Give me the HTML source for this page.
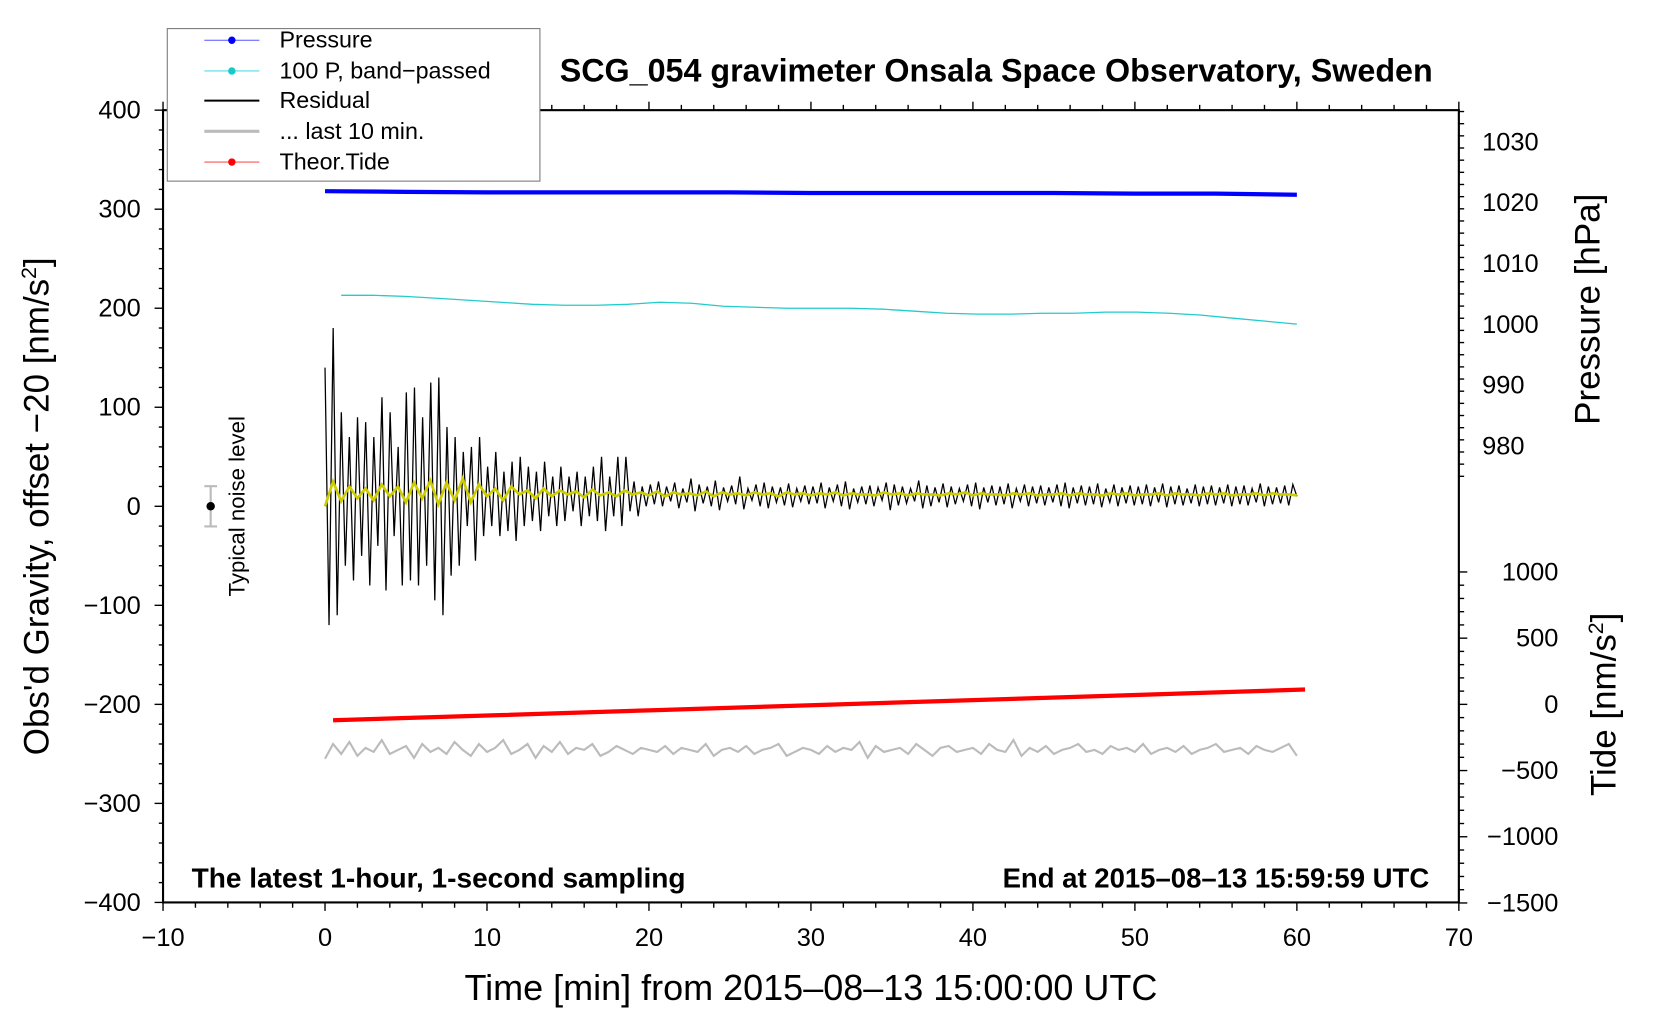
<!DOCTYPE html>
<html><head><meta charset="utf-8"><title>SCG_054 gravimeter</title>
<style>
html,body{margin:0;padding:0;background:#fff;}
svg{display:block;font-family:"Liberation Sans",Arial,sans-serif;}
</style></head>
<body>
<svg id="chart" width="1660" height="1020" viewBox="0 0 1568 963" preserveAspectRatio="none" xmlns="http://www.w3.org/2000/svg">
<rect x="0" y="0" width="1568" height="963" fill="#fff"/>
<g id="plot"></g>
<g id="axes"></g>
<text x="941" y="77" font-size="30.5" font-weight="bold" text-anchor="middle">SCG_054 gravimeter Onsala Space Observatory, Sweden</text>
<text x="181" y="838" font-size="26.5" font-weight="bold">The latest 1-hour, 1-second sampling</text>
<text x="1350" y="838" font-size="26" font-weight="bold" text-anchor="end">End at 2015–08–13 15:59:59 UTC</text>
<text x="766" y="944" font-size="34" text-anchor="middle">Time [min] from 2015–08–13 15:00:00 UTC</text>
<text transform="translate(46,478) rotate(-90)" font-size="33" text-anchor="middle">Obs'd Gravity, offset −20 [nm/s<tspan font-size="20" dy="-12">2</tspan><tspan dy="12">]</tspan></text>
<text transform="translate(1511,292) rotate(-90)" font-size="33" text-anchor="middle">Pressure [hPa]</text>
<text transform="translate(1526,665) rotate(-90)" font-size="33" text-anchor="middle">Tide [nm/s<tspan font-size="20" dy="-12">2</tspan><tspan dy="12">]</tspan></text>
<g>
<line x1="199" y1="459" x2="199" y2="497" stroke="#bbb" stroke-width="2"/>
<line x1="193" y1="459" x2="205" y2="459" stroke="#bbb" stroke-width="2"/>
<line x1="193" y1="497" x2="205" y2="497" stroke="#bbb" stroke-width="2"/>
<circle cx="199" cy="478" r="4" fill="#000"/>
<text transform="translate(231,478) rotate(-90)" font-size="21" text-anchor="middle">Typical noise level</text>
</g>
<g>
<rect x="158" y="27" width="352" height="144" fill="#fff" stroke="#777" stroke-width="1"/>
<g><line x1="193" y1="38" x2="245" y2="38" stroke="#55f" stroke-width="1"/><circle cx="219" cy="38" r="3.5" fill="#00f"/><text x="264" y="45" font-size="22">Pressure</text></g>
<g><line x1="193" y1="67" x2="245" y2="67" stroke="#5dd" stroke-width="1"/><circle cx="219" cy="67" r="3.5" fill="#1cc"/><text x="264" y="74" font-size="22">100 P, band−passed</text></g>
<g><line x1="193" y1="95" x2="245" y2="95" stroke="#000" stroke-width="2"/><text x="264" y="102" font-size="22">Residual</text></g>
<g><line x1="193" y1="124" x2="245" y2="124" stroke="#bbb" stroke-width="3"/><text x="264" y="131" font-size="22">... last 10 min.</text></g>
<g><line x1="193" y1="153" x2="245" y2="153" stroke="#f55" stroke-width="1"/><circle cx="219" cy="153" r="3.5" fill="#f00"/><text x="264" y="160" font-size="22">Theor.Tide</text></g>
</g>
</svg>
<script>
const xTicks = [-10,0,10,20,30,40,50,60,70];
const yTicks = [400,300,200,100,0,-100,-200,-300,-400];
const pTicks = [1030,1020,1010,1000,990,980];
const tideTicks = [1000,500,0,-500,-1000,-1500];
const yTickLabels = ["400","300","200","100","0","−100","−200","−300","−400"];
const xTickLabels = ["−10","0","10","20","30","40","50","60","70"];
const tideTickLabels = ["1000","500","0","−500","−1000","−1500"];

const residual = [140,-120,180,-110,95,-60,70,-75,90,-50,85,-80,70,-40,110,-85,95,-30,60,-80,
115,-75,120,-80,90,-60,125,-95,130,-110,80,-70,70,-60,55,-20,60,-55,70,-30,
40,-20,55,-30,35,-25,45,-35,50,-20,40,-15,35,-25,45,-10,30,-20,40,-15,
30,-5,35,-20,30,-10,40,-15,50,-25,30,-10,50,-20,50,-5,25,-10,20,0,
22,2,25,0,20,5,24,-2,18,4,28,-5,22,3,20,0,26,-4,19,5,
21,2,30,-3,18,6,22,0,24,-2,20,4,19,1,23,-1,18,5,21,2,
20,3,24,-2,19,5,22,0,25,-3,18,4,20,2,21,0,19,6,24,-4,
22,1,20,3,18,5,26,-2,21,0,19,4,23,-1,20,2,18,5,22,0,
24,-3,19,4,21,1,20,2,23,-2,18,5,22,0,20,3,21,1,19,4,
22,0,24,-2,19,3,21,1,20,2,23,-1,18,4,22,0,19,3,21,1,
20,2,22,0,19,4,23,-1,20,2,21,1,18,3,22,0,20,2,21,1,
19,3,22,0,20,2,21,1,18,4,23,0,20,2,19,3,21,1,22,10];
const smoothed = [0,25,5,20,8,18,6,22,10,20,4,24,8,26,2,24,6,28,4,22,
10,18,6,20,12,16,8,18,10,16,12,15,9,17,11,14,10,16,12,14,
11,15,10,14,12,13,11,15,10,14,12,13,11,14,12,13,10,14,12,13,
11,13,12,14,11,13,12,12,11,14,12,13,11,13,12,12,11,13,12,14,
11,13,12,12,11,13,12,13,11,12,12,13,11,13,12,12,11,13,12,13,
11,12,12,13,11,13,12,12,11,13,12,13,11,12,12,13,11,13,12,12,11];
const bandpassed = [213,213,212,210,208,206,204,203,203,204,206,205,202,201,200,200,200,199,197,195,194,194,195,195,196,196,195,193,190,187,184];
const pressure = [1021.9,1021.8,1021.7,1021.7,1021.7,1021.7,1021.6,1021.6,1021.6,1021.6,1021.5,1021.5,1021.3];
const tide = [-120,-82,-43,-5,34,73,112];
const lastTen = [-255,-240,-250,-238,-252,-244,-248,-236,-250,-246,-242,-254,-240,-248,-244,-250,-238,-246,-252,-240,
-248,-244,-236,-250,-246,-240,-254,-242,-248,-238,-250,-244,-246,-240,-252,-248,-242,-246,-250,-244,
-246,-248,-242,-250,-244,-246,-248,-240,-252,-246,-244,-248,-242,-250,-246,-244,-240,-252,-248,-244,
-246,-250,-242,-248,-244,-246,-238,-254,-242,-248,-246,-244,-250,-240,-246,-252,-244,-242,-248,-246,
-244,-250,-240,-246,-248,-236,-252,-244,-248,-242,-250,-246,-244,-240,-248,-246,-250,-242,-246,-244,
-248,-240,-250,-246,-244,-248,-242,-250,-246,-244,-240,-248,-246,-244,-250,-242,-246,-248,-244,-240,-252];

const NS='http://www.w3.org/2000/svg';
const sx = t => 154 + (t + 10) * 15.3;
const sy = v => 478 - v * 0.935;
const sp = p => 134 + (1030 - p) * 5.74;
const st = v => 665 - v * 0.125;
const plot = document.getElementById('plot');
const axes = document.getElementById('axes');
function mk(tag, attrs, parent){const e=document.createElementNS(NS,tag);for(const k in attrs)e.setAttribute(k,attrs[k]);parent.appendChild(e);return e;}
function poly(pts){return pts.map(p=>p[0].toFixed(1)+','+p[1].toFixed(1)).join(' ');}
function tAt(i, arr, t0, t1){return t0 + i*(t1-t0)/(arr.length-1);}

let el;
el = mk('polyline',{points:poly(lastTen.map((v,i)=>[sx(tAt(i,lastTen,0,60)),sy(v)])),fill:'none',stroke:'#bbb','stroke-width':2},plot);


el = mk('polyline',{points:poly(tide.map((v,i)=>[sx(tAt(i,tide,0.5,60.5)),st(v)])),fill:'none',stroke:'#f00','stroke-width':4},plot);


el = mk('polyline',{points:poly(bandpassed.map((v,i)=>[sx(tAt(i,bandpassed,1,60)),sy(v)])),fill:'none',stroke:'#2cc','stroke-width':1.2},plot);


el = mk('polyline',{points:poly(pressure.map((v,i)=>[sx(tAt(i,pressure,0,60)),sp(v)])),fill:'none',stroke:'#00f','stroke-width':4},plot);


el = mk('polyline',{points:poly(residual.map((v,i)=>[sx(tAt(i,residual,0,60)),sy(v)])),fill:'none',stroke:'#000','stroke-width':1.2},plot);


el = mk('polyline',{points:poly(smoothed.map((v,i)=>[sx(tAt(i,smoothed,0,60)),sy(v)])),fill:'none',stroke:'#cc0','stroke-width':2.5},plot);



el = mk('rect',{x:154,y:104,width:1224,height:748,fill:'none',stroke:'#000','stroke-width':2},axes);


for(let m=-10;m<=70;m+=2){const X=sx(m);const major=(m%10===0);
 mk('line',{x1:X,y1:852,x2:X,y2:major?860:857,stroke:'#000','stroke-width':1.3},axes);
 mk('line',{x1:X,y1:104,x2:X,y2:major?96:99,stroke:'#000','stroke-width':1.3},axes);}
xTicks.forEach((t,i)=>{const tx=mk('text',{x:sx(t),y:893,'font-size':24,'text-anchor':'middle'},axes);tx.textContent=xTickLabels[i];
 
 });
for(let v=-400;v<=400;v+=20){const Y=sy(v);const major=(v%100===0);
 mk('line',{x1:154,y1:Y,x2:major?146:150,y2:Y,stroke:'#000','stroke-width':1.3},axes);}
yTicks.forEach((v,i)=>{const tx=mk('text',{x:133,y:sy(v)+8,'font-size':24,'text-anchor':'end'},axes);tx.textContent=yTickLabels[i];
 
 });
for(let p=975;p<=1035;p+=2){const Y=sp(p);if(Y<104||Y>452)continue;const major=(p%10===0);
 mk('line',{x1:1378,y1:Y,x2:major?1386:1383,y2:Y,stroke:'#000','stroke-width':1.3},axes);}
pTicks.forEach(p=>{const tx=mk('text',{x:1400,y:sp(p)+8,'font-size':24},axes);tx.textContent=String(p);
 
 });
for(let v=-1500;v<=1000;v+=100){const Y=st(v);const major=(v%500===0);
 mk('line',{x1:1378,y1:Y,x2:major?1386:1383,y2:Y,stroke:'#000','stroke-width':1.3},axes);}
tideTicks.forEach((v,i)=>{const tx=mk('text',{x:1472,y:st(v)+8,'font-size':24,'text-anchor':'end'},axes);tx.textContent=tideTickLabels[i];
 
 });
</script>
</body></html>
